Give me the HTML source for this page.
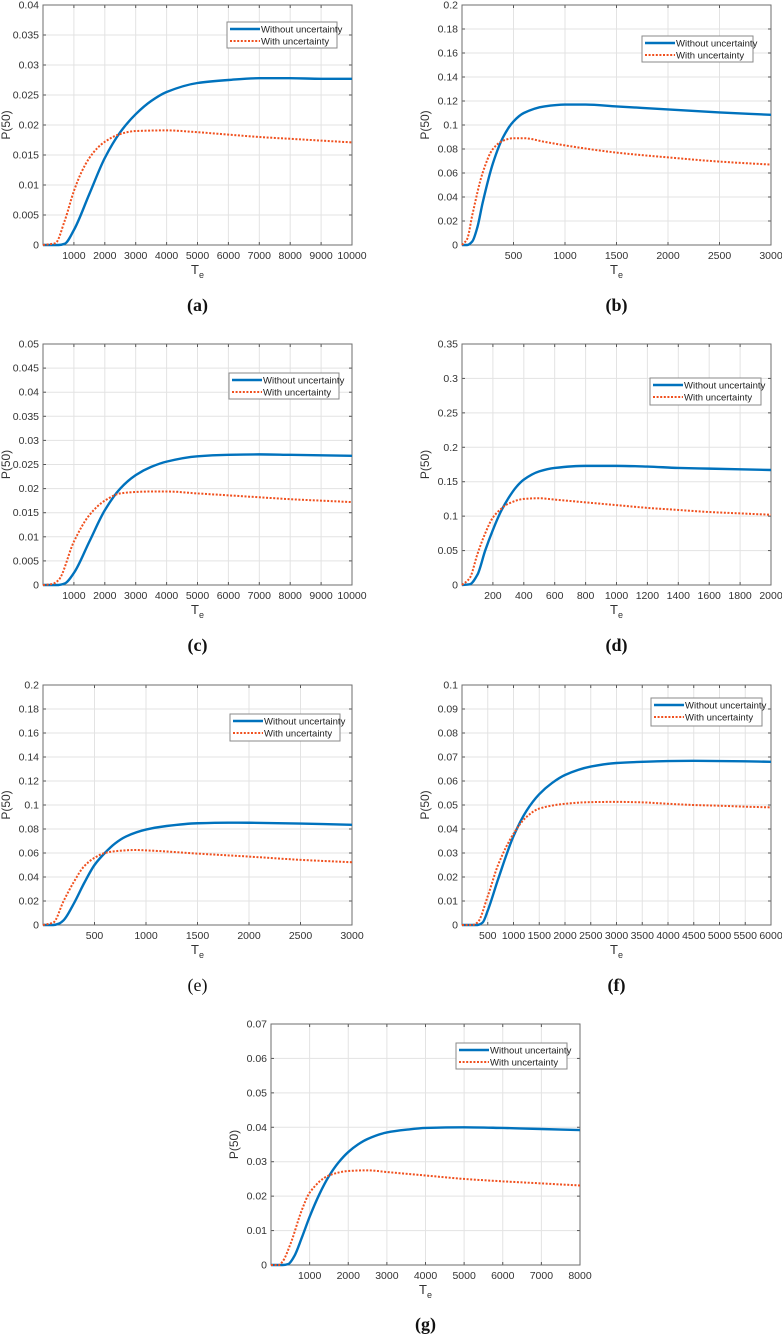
<!DOCTYPE html>
<html><head><meta charset="utf-8">
<style>
html,body{margin:0;padding:0;background:#fff;}
body{width:782px;height:1336px;overflow:hidden;position:relative;}
svg{position:absolute;left:0;top:0;}
text{font-family:"Liberation Sans",sans-serif;}
.cap{font-family:"Liberation Serif",serif;font-size:18px;fill:#111;}
</style></head>
<body>
<svg id="fig" width="782" height="1336" viewBox="0 0 782 1336"></svg>
<script>
// ---------- data ----------
const aX = [0,500,700,1000,1500,2000,2500,3000,3500,4000,5000,6000,7000,8000,9000,10000];
const aBlue = [0,0,0.0002,0.0025,0.0085,0.0145,0.0188,0.0218,0.024,0.0255,0.027,0.0275,0.0278,0.0278,0.0277,0.0277];
const aRX = [0,400,700,1000,1250,1500,1750,2000,2500,3000,4000,5000,6000,7000,8000,9000,10000];
const aRed = [0,0.0003,0.004,0.009,0.0122,0.0145,0.0161,0.0172,0.0185,0.019,0.0191,0.0188,0.0184,0.018,0.0177,0.0174,0.0171];
const aYTicks = [0,0.005,0.01,0.015,0.02,0.025,0.03,0.035,0.04];
const aXTicks = [1000,2000,3000,4000,5000,6000,7000,8000,9000,10000];

const bX = [0,50,100,150,200,300,400,500,600,800,1000,1200,1500,2000,2500,3000];
const bBlue = [0,0,0.003,0.015,0.035,0.068,0.09,0.103,0.11,0.1155,0.117,0.117,0.1155,0.113,0.1105,0.1085];
const bRX = [0,50,100,200,300,400,500,600,800,1000,1500,2000,2500,3000];
const bRed = [0,0.005,0.025,0.06,0.08,0.087,0.089,0.089,0.086,0.083,0.077,0.073,0.0695,0.067];
const bYTicks = [0,0.02,0.04,0.06,0.08,0.1,0.12,0.14,0.16,0.18,0.2];
const bXTicks = [500,1000,1500,2000,2500,3000];

const cX = [0,500,700,1000,1500,2000,2500,3000,3500,4000,5000,6000,7000,8000,9000,10000];
const cBlue = [0,0,0.0003,0.0025,0.009,0.0155,0.02,0.0228,0.0245,0.0256,0.0267,0.027,0.0271,0.027,0.0269,0.0268];
const cRX = [0,300,500,1000,1500,2000,2500,3000,3500,4000,5000,6000,7000,8000,9000,10000];
const cRed = [0,0.0002,0.001,0.009,0.0145,0.0175,0.019,0.0193,0.0194,0.0194,0.019,0.0186,0.0182,0.0178,0.0175,0.0172];
const cYTicks = [0,0.005,0.01,0.015,0.02,0.025,0.03,0.035,0.04,0.045,0.05];
const cXTicks = [1000,2000,3000,4000,5000,6000,7000,8000,9000,10000];

const dX = [0,50,100,150,200,250,300,350,400,500,600,800,1000,1200,1400,1600,1800,2000];
const dBlue = [0,0.001,0.015,0.05,0.08,0.106,0.126,0.142,0.153,0.165,0.17,0.173,0.173,0.172,0.17,0.169,0.168,0.167];
const dRX = [0,50,100,150,200,250,300,400,500,600,800,1000,1200,1400,1600,1800,2000];
const dRed = [0,0.01,0.045,0.075,0.098,0.11,0.118,0.125,0.126,0.124,0.12,0.116,0.112,0.109,0.106,0.104,0.102];
const dYTicks = [0,0.05,0.1,0.15,0.2,0.25,0.3,0.35];
const dXTicks = [200,400,600,800,1000,1200,1400,1600,1800,2000];

const eX = [0,100,150,200,300,400,500,600,700,800,1000,1200,1500,1800,2000,2500,3000];
const eBlue = [0,0,0.001,0.004,0.018,0.035,0.05,0.06,0.068,0.0735,0.0795,0.0825,0.0848,0.0853,0.0852,0.0845,0.0835];
const eRX = [0,100,200,300,400,500,600,700,900,1000,1500,2000,2500,3000];
const eRed = [0,0.002,0.02,0.036,0.049,0.056,0.06,0.0615,0.0625,0.0622,0.0595,0.057,0.0543,0.0523];
const eYTicks = [0,0.02,0.04,0.06,0.08,0.1,0.12,0.14,0.16,0.18,0.2];
const eXTicks = [500,1000,1500,2000,2500,3000];

const fX = [0,300,400,500,700,1000,1250,1500,1750,2000,2500,3000,3500,4000,4500,5000,5500,6000];
const fBlue = [0,0,0.001,0.006,0.019,0.037,0.0475,0.0545,0.0592,0.0625,0.066,0.0675,0.068,0.0683,0.0684,0.0683,0.0682,0.068];
const fRX = [0,200,300,500,700,1000,1250,1500,2000,2500,3000,3500,4000,4500,5000,5500,6000];
const fRed = [0,0,0.001,0.012,0.025,0.038,0.045,0.0485,0.0505,0.0512,0.0513,0.0511,0.0505,0.05,0.0497,0.0493,0.049];
const fYTicks = [0,0.01,0.02,0.03,0.04,0.05,0.06,0.07,0.08,0.09,0.1];
const fXTicks = [500,1000,1500,2000,2500,3000,3500,4000,4500,5000,5500,6000];

const gX = [0,300,450,600,800,1000,1250,1500,1750,2000,2250,2500,3000,3500,4000,5000,6000,7000,8000];
const gBlue = [0,0,0.0003,0.0025,0.008,0.014,0.0205,0.0258,0.0298,0.0328,0.035,0.0366,0.0385,0.0393,0.0398,0.04,0.0398,0.0395,0.0392];
const gRX = [0,200,300,500,800,1000,1500,2000,2500,3000,4000,5000,6000,7000,8000];
const gRed = [0,0,0.001,0.006,0.016,0.021,0.026,0.0273,0.0275,0.027,0.026,0.025,0.0243,0.0237,0.0231];
const gYTicks = [0,0.01,0.02,0.03,0.04,0.05,0.06,0.07];
const gXTicks = [1000,2000,3000,4000,5000,6000,7000,8000];

// ---------- layout ----------
const panels = [
 {id:'a',L:43,T:5,R:352,B:245,xmax:10000,ymax:0.04,X:aX,bl:aBlue,RX:aRX,rd:aRed,yt:aYTicks,xt:aXTicks,lg:[227,22,110,26],cap:'(a)',capY:311,bold:true},
 {id:'b',L:462,T:5,R:771,B:245,xmax:3000,ymax:0.2,X:bX,bl:bBlue,RX:bRX,rd:bRed,yt:bYTicks,xt:bXTicks,lg:[642,36,111,26],cap:'(b)',capY:311,bold:true},
 {id:'c',L:43,T:344,R:352,B:585,xmax:10000,ymax:0.05,X:cX,bl:cBlue,RX:cRX,rd:cRed,yt:cYTicks,xt:cXTicks,lg:[229,373,110,26],cap:'(c)',capY:651,bold:true},
 {id:'d',L:462,T:344,R:771,B:585,xmax:2000,ymax:0.35,X:dX,bl:dBlue,RX:dRX,rd:dRed,yt:dYTicks,xt:dXTicks,lg:[650,378,111,27],cap:'(d)',capY:651,bold:true},
 {id:'e',L:43,T:685,R:352,B:925,xmax:3000,ymax:0.2,X:eX,bl:eBlue,RX:eRX,rd:eRed,yt:eYTicks,xt:eXTicks,lg:[230,714,110,27],cap:'(e)',capY:991,bold:false},
 {id:'f',L:462,T:685,R:771,B:925,xmax:6000,ymax:0.1,X:fX,bl:fBlue,RX:fRX,rd:fRed,yt:fYTicks,xt:fXTicks,lg:[651,698,111,28],cap:'(f)',capY:991,bold:true},
 {id:'g',L:271,T:1024,R:580,B:1265,xmax:8000,ymax:0.07,X:gX,bl:gBlue,RX:gRX,rd:gRed,yt:gYTicks,xt:gXTicks,lg:[456,1043,111,26],cap:'(g)',capY:1330,bold:true}
];

const NS='http://www.w3.org/2000/svg';
const svg=document.getElementById('fig');
function mk(tag,attrs,parent){const e=document.createElementNS(NS,tag);for(const k in attrs)e.setAttribute(k,attrs[k]);(parent||svg).appendChild(e);return e;}
function fmt(v){return String(+v.toFixed(4));}
// monotone cubic (Fritsch-Carlson) in pixel space
function smoothPath(pts){
  const n=pts.length;
  const dx=[],dy=[],m=[];
  for(let i=0;i<n-1;i++){dx.push(pts[i+1][0]-pts[i][0]);dy.push(pts[i+1][1]-pts[i][1]);m.push(dy[i]/dx[i]);}
  const t=new Array(n);
  t[0]=m[0];t[n-1]=m[n-2];
  for(let i=1;i<n-1;i++){
    if(m[i-1]*m[i]<=0)t[i]=0;
    else{const w1=2*dx[i]+dx[i-1],w2=dx[i]+2*dx[i-1];t[i]=(w1+w2)/(w1/m[i-1]+w2/m[i]);}
  }
  let d='M'+pts[0][0].toFixed(2)+','+pts[0][1].toFixed(2);
  for(let i=0;i<n-1;i++){
    const h=dx[i]/3;
    d+=' C'+(pts[i][0]+h).toFixed(2)+','+(pts[i][1]+t[i]*h).toFixed(2)+' '+(pts[i+1][0]-h).toFixed(2)+','+(pts[i+1][1]-t[i+1]*h).toFixed(2)+' '+pts[i+1][0].toFixed(2)+','+pts[i+1][1].toFixed(2);
  }
  return d;
}

panels.forEach(p=>{
  const g=mk('g',{});
  
  
  const sx=v=>p.L+(v/p.xmax)*(p.R-p.L);
  const sy=v=>p.B-(v/p.ymax)*(p.B-p.T);
  const bg=mk('rect',{x:p.L,y:p.T,width:p.R-p.L,height:p.B-p.T,fill:'#fff'},g);
  
  
  p.yt.forEach(v=>{
    const l=mk('line',{x1:p.L,x2:p.R,y1:sy(v),y2:sy(v),stroke:'#e3e3e3','stroke-width':1},g);
    
    
  });
  p.xt.forEach(v=>{
    const l=mk('line',{x1:sx(v),x2:sx(v),y1:p.T,y2:p.B,stroke:'#e3e3e3','stroke-width':1},g);
    
    
  });
  p.yt.forEach(v=>{
    const y=sy(v);
    mk('line',{x1:p.L,x2:p.L+3,y1:y,y2:y,stroke:'#555'},g);
    mk('line',{x1:p.R,x2:p.R-3,y1:y,y2:y,stroke:'#555'},g);
    const t=mk('text',{x:p.L-4,y:y+3.5,'text-anchor':'end','font-size':'10.5',fill:'#333'},g);
    t.textContent=fmt(v);
    
    
  });
  p.xt.forEach(v=>{
    const x=sx(v);
    mk('line',{x1:x,x2:x,y1:p.B,y2:p.B-3,stroke:'#555'},g);
    mk('line',{x1:x,x2:x,y1:p.T,y2:p.T+3,stroke:'#555'},g);
    const t=mk('text',{x:x,y:p.B+14,'text-anchor':'middle','font-size':'10.5',fill:'#333'},g);
    t.textContent=String(v);
    
    
  });
  const box=mk('rect',{x:p.L,y:p.T,width:p.R-p.L,height:p.B-p.T,fill:'none',stroke:'#6e6e6e','stroke-width':1},g);
  
  
  const yl=mk('text',{x:0,y:0,'text-anchor':'middle','font-size':'12',fill:'#333',transform:'translate('+(p.L-33)+','+((p.T+p.B)/2)+') rotate(-90)'},g);
  yl.textContent='P(50)';
  
  
  const xl=mk('text',{x:(p.L+p.R)/2,y:p.B+29,'text-anchor':'middle','font-size':'13',fill:'#333'},g);
  xl.innerHTML='T<tspan font-size="9" dy="4">e</tspan>';
  
  
  const bp=mk('path',{d:smoothPath(p.X.map((x,i)=>[sx(x),sy(p.bl[i])])),fill:'none',stroke:'#0072BD','stroke-width':2.4},g);
  
  
  const rp=mk('path',{d:smoothPath(p.RX.map((x,i)=>[sx(x),sy(p.rd[i])])),fill:'none',stroke:'#F0501E','stroke-width':2,'stroke-dasharray':'2,1.6'},g);
  
  
  const [lx,ly,lw,lh]=p.lg;
  const lgG=mk('g',{},g);
  
  
  mk('rect',{x:lx,y:ly,width:lw,height:lh,fill:'#fff',stroke:'#8a8a8a','stroke-width':1},lgG);
  mk('line',{x1:lx+3,x2:lx+33,y1:ly+7,y2:ly+7,stroke:'#0072BD','stroke-width':2.4},lgG);
  mk('line',{x1:lx+3,x2:lx+33,y1:ly+19,y2:ly+19,stroke:'#F0501E','stroke-width':2,'stroke-dasharray':'2,1.6'},lgG);
  const t1=mk('text',{x:lx+34,y:ly+10.5,'font-size':'9.5',fill:'#222'},lgG);
  t1.textContent='Without uncertainty';
  
  
  const t2=mk('text',{x:lx+34,y:ly+22.5,'font-size':'9.5',fill:'#222'},lgG);
  t2.textContent='With uncertainty';
  
  
  const c=mk('text',{x:(p.L+p.R)/2,y:p.capY,'text-anchor':'middle',class:'cap','font-weight':p.bold?'bold':'normal'},g);
  c.textContent=p.cap;
  
  
});
</script>
</body></html>
